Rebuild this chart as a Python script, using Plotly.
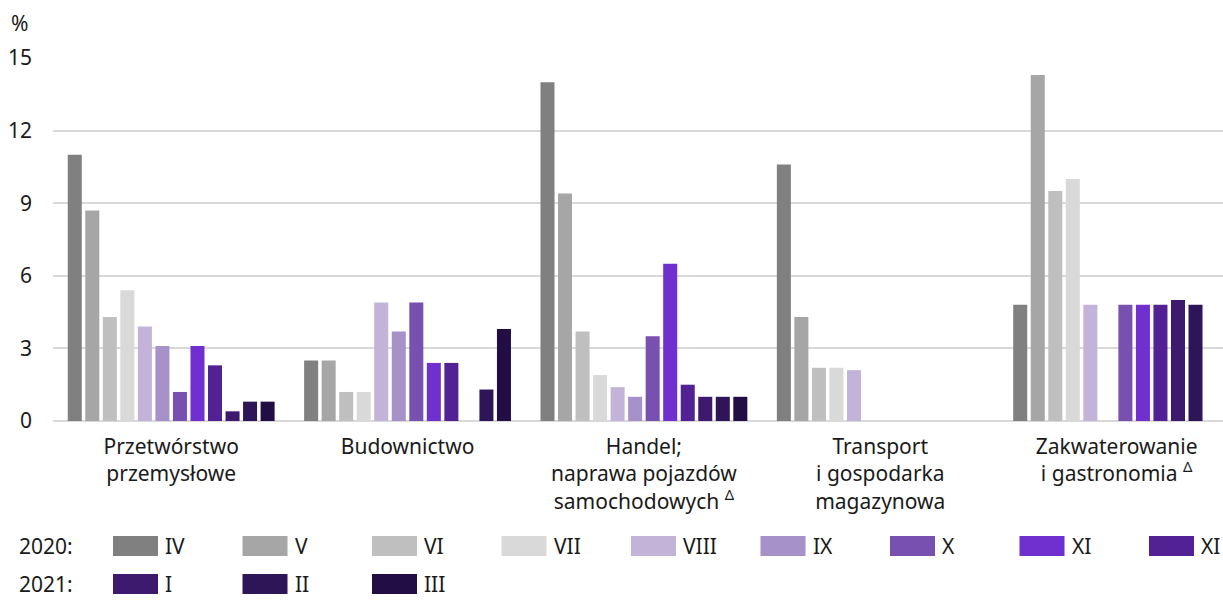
import plotly.graph_objects as go

categories = ["Przetwórstwo", "Budownictwo", "Handel", "Transport", "Zakwaterowanie"]
tick_labels = [
    "Przetwórstwo<br>przemysłowe",
    "Budownictwo",
    "Handel;<br>naprawa pojazdów<br>samochodowych <sup>Δ</sup>",
    "Transport<br>i gospodarka<br>magazynowa",
    "Zakwaterowanie<br>i gastronomia <sup>Δ</sup>",
]

months = ["IV", "V", "VI", "VII", "VIII", "IX", "X", "XI", "XII", "I", "II", "III"]
legend_labels = ["IV", "V", "VI", "VII", "VIII", "IX", "X", "XI", "XI", "I", "II", "III"]
years = ["2020"] * 9 + ["2021"] * 3

v_IV = [11.0, 2.5, 14.0, 10.6, 4.8]
v_V = [8.7, 2.5, 9.4, 4.3, 14.3]
v_VI = [4.3, 1.2, 3.7, 2.2, 9.5]
v_VII = [5.4, 1.2, 1.9, 2.2, 10.0]
v_VIII = [3.9, 4.9, 1.4, 2.1, 4.8]
v_IX = [3.1, 3.7, 1.0, None, None]
v_X = [1.2, 4.9, 3.5, None, 4.8]
v_XI = [3.1, 2.4, 6.5, None, 4.8]
v_XII = [2.3, 2.4, 1.5, None, 4.8]
v_I = [0.4, None, 1.0, None, 5.0]
v_II = [0.8, 1.3, 1.0, None, 4.8]
v_III = [0.8, 3.8, 1.0, None, None]
series = [v_IV, v_V, v_VI, v_VII, v_VIII, v_IX, v_X, v_XI, v_XII, v_I, v_II, v_III]

colors = ["#808080", "#a6a6a6", "#bfbfbf", "#d9d9d9", "#c3b3d9", "#a791c9",
          "#7851b0", "#7030d0", "#522295", "#3e1a6f", "#2e1558", "#220e44"]

y_ticks = [0, 3, 6, 9, 12, 15]

FONT = "Noto Sans"
FS = 21
TXT = "#1a1a1a"
W, H = 1223, 601
ML, MR, MT = 53, 0, 58
MB = H - 421
PW = W - ML - MR
PH = H - MT - MB

fig = go.Figure()
for m, vals, col, yr in zip(months, series, colors, years):
    fig.add_trace(go.Bar(
        x=categories, y=vals, name=f"{yr} {m}",
        marker=dict(color=col, line=dict(width=0)),
        showlegend=False,
    ))


def px_x(px):
    return (px - ML) / PW


def px_y(py):
    return (H - MB - py) / PH


shapes = []
annotations = []
row_y = {"2020": 546, "2021": 584}
for yr in ["2020", "2021"]:
    annotations.append(dict(
        text=f"{yr}:", x=px_x(17), y=px_y(row_y[yr]),
        xref="paper", yref="paper", xanchor="left", yanchor="middle",
        showarrow=False, font=dict(size=FS, color=TXT, family=FONT)))
col_idx = {"2020": 0, "2021": 0}
for lab, col, yr in zip(legend_labels, colors, years):
    i = col_idx[yr]
    col_idx[yr] += 1
    x0 = 113 + i * 129.5
    cy = row_y[yr]
    shapes.append(dict(
        type="rect", xref="paper", yref="paper",
        x0=px_x(x0), x1=px_x(x0 + 45),
        y0=px_y(cy + 10), y1=px_y(cy - 10),
        fillcolor=col, line=dict(width=0)))
    annotations.append(dict(
        text=lab, x=px_x(x0 + 50), y=px_y(cy),
        xref="paper", yref="paper", xanchor="left", yanchor="middle",
        showarrow=False, font=dict(size=FS, color=TXT, family=FONT)))

annotations.append(dict(
    text="%", x=px_x(9), y=px_y(23),
    xref="paper", yref="paper", xanchor="left", yanchor="middle",
    showarrow=False, font=dict(size=FS, color=TXT, family=FONT)))

fig.update_layout(
    width=W, height=H,
    margin=dict(l=ML, r=MR, t=MT, b=MB, pad=0),
    paper_bgcolor="white", plot_bgcolor="white",
    barmode="group", bargap=0.11, bargroupgap=0.2,
    font=dict(family=FONT, size=FS, color=TXT),
    shapes=shapes, annotations=annotations,
    showlegend=False,
)
fig.update_xaxes(
    type="category", categoryorder="array", categoryarray=categories,
    tickvals=categories, ticktext=tick_labels,
    range=[-0.5, 4.45], showgrid=False, ticks="", showline=False,
    zeroline=False, ticklabelstandoff=11,
    tickfont=dict(size=FS, family=FONT, color=TXT),
)
fig.update_yaxes(
    range=[0, 15], tickvals=y_ticks, showgrid=True, gridcolor="#d9d9d9",
    gridwidth=2, zeroline=True, zerolinecolor="#d9d9d9", zerolinewidth=2,
    ticks="", ticklabelstandoff=20,
    tickfont=dict(size=FS, family=FONT, color=TXT),
)

fig.write_html(
    "out.html",
    config={"displayModeBar": False},
    post_script="document.body.style.margin='0';document.body.style.overflow='hidden';",
)
